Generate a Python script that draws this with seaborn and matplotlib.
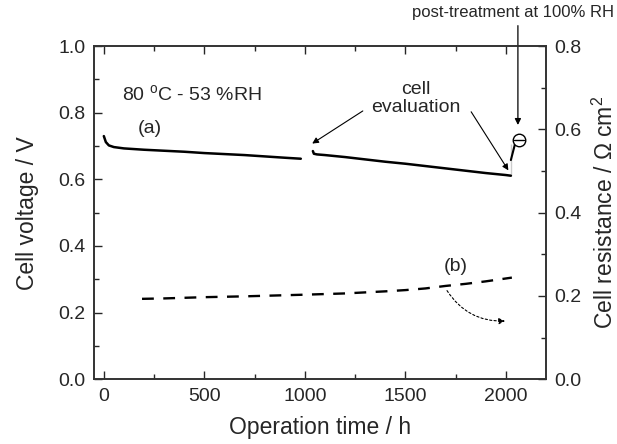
import numpy as np
import pandas as pd
import matplotlib.pyplot as plt
import seaborn as sns
from matplotlib.ticker import MultipleLocator

# (a) cell voltage, two segments split by the cell evaluation
time_a1 = [0, 10, 25, 50, 100, 200, 300, 400, 500, 600, 700, 800, 900, 980]
volt_a1 = [0.730, 0.712, 0.702, 0.697, 0.693, 0.689, 0.686, 0.683, 0.679, 0.676, 0.673, 0.669, 0.665, 0.662]
time_a2 = [1040, 1045, 1060, 1100, 1200, 1300, 1400, 1500, 1600, 1700, 1800, 1900, 2000, 2025]
volt_a2 = [0.685, 0.677, 0.675, 0.673, 0.667, 0.660, 0.653, 0.647, 0.640, 0.633, 0.626, 0.619, 0.613, 0.611]
# jump after post-treatment at 100% RH
time_jump = [2025, 2025, 2045]
volt_jump = [0.611, 0.705, 0.705]
post_time = [2065]
post_volt = [0.718]

# (b) cell resistance
time_b = [190, 300, 500, 700, 1000, 1200, 1400, 1500, 1600, 1700, 1800, 1900, 2030]
res_b = [0.193, 0.194, 0.197, 0.199, 0.203, 0.206, 0.211, 0.214, 0.218, 0.224, 0.229, 0.235, 0.244]

sns.set_style("ticks")
plt.rcParams['font.family'] = ['Liberation Sans', 'DejaVu Sans']
plt.rcParams['mathtext.fontset'] = 'custom'
plt.rcParams['mathtext.rm'] = 'Liberation Sans'

fig = plt.figure(figsize=(6.17, 4.44), dpi=100)
ax = fig.add_axes([0.152, 0.146, 0.733, 0.750])
ax2 = ax.twinx()

sns.lineplot(x=time_a1, y=volt_a1, ax=ax, color='black', lw=1.8)
sns.lineplot(x=time_a2, y=volt_a2, ax=ax, color='black', lw=1.8)
sns.lineplot(x=time_jump, y=volt_jump, ax=ax, color='black', lw=1.5)
ax.plot(post_time, post_volt, marker='o', ms=9, mfc='white', mec='black', mew=1.0, ls='none')
ax.plot([post_time[0] - 25, post_time[0] + 25], [post_volt[0], post_volt[0]], color='black', lw=1.0)

sns.lineplot(x=time_b, y=res_b, ax=ax2, color='black', lw=1.7, linestyle=(0, (5, 4)))

ax.set_xlim(-50, 2200)
ax.set_ylim(0, 1.0)
ax2.set_ylim(0, 0.8)

ax.xaxis.set_major_locator(MultipleLocator(500))
ax.xaxis.set_minor_locator(MultipleLocator(250))
ax.yaxis.set_major_locator(MultipleLocator(0.2))
ax.yaxis.set_minor_locator(MultipleLocator(0.1))
ax2.yaxis.set_major_locator(MultipleLocator(0.2))
ax2.yaxis.set_minor_locator(MultipleLocator(0.1))
ax.yaxis.set_major_formatter(plt.FormatStrFormatter('%.1f'))
ax2.yaxis.set_major_formatter(plt.FormatStrFormatter('%.1f'))

ax.tick_params(which='both', direction='in', top=True, labelsize=14, pad=6)
ax.tick_params(which='major', length=6, width=1)
ax.tick_params(which='minor', length=3.5, width=1)
ax2.tick_params(which='both', direction='in', labelsize=14, pad=6)
ax2.tick_params(which='major', length=6, width=1)
ax2.tick_params(which='minor', length=3.5, width=1)
for a in (ax, ax2):
    for s in a.spines.values():
        s.set_linewidth(1.2)
        s.set_color('#333333')

ax.set_xlabel('Operation time / h', fontsize=16.5, labelpad=8)
ax.set_ylabel('Cell voltage / V', fontsize=16.5, labelpad=14)
ax2.set_ylabel(r'Cell resistance / $\Omega$ cm$^2$', fontsize=16.5, labelpad=8)

ax.text(90, 0.835, r'80 $^{\rm o}$C - 53 %RH', fontsize=14)
ax.text(170, 0.74, '(a)', fontsize=14)
ax.text(1550, 0.79, 'cell\nevaluation', fontsize=14, linespacing=1.05, ha='center', va='bottom')
ax.text(1690, 0.325, '(b)', fontsize=14)

ax.annotate('', xy=(1025, 0.703), xytext=(1300, 0.81),
            arrowprops=dict(arrowstyle='-|>', color='black', lw=0.8, mutation_scale=9))
ax.annotate('', xy=(2020, 0.62), xytext=(1820, 0.81),
            arrowprops=dict(arrowstyle='-|>', color='black', lw=0.8, mutation_scale=9))
ax.annotate('', xy=(2060, 0.755), xytext=(2060, 1.07),
            arrowprops=dict(arrowstyle='-|>', color='black', lw=0.9, mutation_scale=9),
            annotation_clip=False)
fig.text(0.995, 0.972, 'post-treatment at 100% RH', fontsize=12, ha='right', va='center')
ax.annotate('', xy=(2010, 0.175), xytext=(1700, 0.273),
            arrowprops=dict(arrowstyle='-|>', color='black', lw=0.8, ls=(0, (2, 2)),
                            mutation_scale=9, connectionstyle='arc3,rad=0.3'))

fig.savefig('out.png', dpi=100)
